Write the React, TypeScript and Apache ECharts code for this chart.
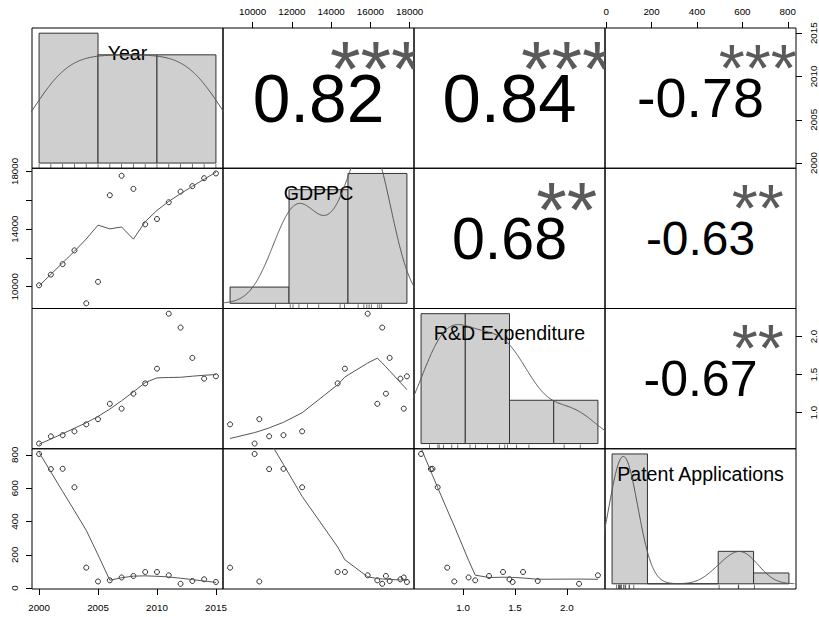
import React, { useEffect, useRef } from 'react';
import * as echarts from 'echarts';

// ---- data -------------------------------------------------------------
const years = [2000, 2001, 2002, 2003, 2004, 2005, 2006, 2007, 2008, 2009, 2010, 2011, 2012, 2013, 2014, 2015];
const gdppc = [10100, 10840, 11570, 12520, 8850, 10340, 16350, 17700, 16790, 14330, 14700, 15860, 16600, 16980, 17530, 17860];
const rdExpenditure = [0.595, 0.69, 0.705, 0.755, 0.847, 0.915, 1.117, 1.053, 1.25, 1.385, 1.578, 2.3, 2.118, 1.72, 1.447, 1.478];
const patentApps = [805, 714, 716, 605, 123, 40, 47, 64, 73, 97, 97, 77, 26, 43, 53, 37];

const varNames = ['Year', 'GDPPC', 'R&D Expenditure', 'Patent Applications'];

// histogram breaks for the diagonal panels
const yearBreaks = [2000, 2005, 2010, 2015];
const gdppcBreaks = [5000, 10000, 15000, 20000];
const rdBreaks = [0.5, 1.0, 1.5, 2.0, 2.5];
const patentBreaks = [0, 200, 400, 600, 800, 1000];

// axis ticks
const yearTicks = [2000, 2005, 2010, 2015];
const gdppcTicks = [10000, 12000, 14000, 16000, 18000];
const gdppcSideLabels = [10000, 14000, 18000];
const rdTicks = [1.0, 1.5, 2.0];
const patentTicks = [0, 200, 400, 600, 800];

// upper-triangle correlations: (1,2) (1,3) (1,4) (2,3) (2,4) (3,4)
const corrText = ['0.82', '0.84', '-0.78', '0.68', '-0.63', '-0.67'];
const corrStars = ['***', '***', '***', '**', '**', '**'];

// ---- styling / layout ------------------------------------------------
const FONT = '"Liberation Sans", Arial, Helvetica, sans-serif';
const AXIS_FS = 9.8;
const LABEL_FS = 19.6;
const LINE_GREY = '#555555';
const STAR_GREY = '#5a5a5a';
const HIST_FILL = '#cfcfcf';
const HIST_EDGE = '#333333';

const PLOT_LEFT = 32;
const PLOT_TOP = 28;
const PANEL_W = 191;
const PANEL_H = 140.25;

// ---- helpers ------------------------------------------------------------
function usrRange(v: number[]): [number, number] {
  const lo = Math.min(...v);
  const hi = Math.max(...v);
  const d = (hi - lo) * 0.04;
  return [lo - d, hi + d];
}

function quantile7(sorted: number[], p: number): number {
  const h = (sorted.length - 1) * p;
  const lo = Math.floor(h);
  const hi = Math.min(lo + 1, sorted.length - 1);
  return sorted[lo] + (h - lo) * (sorted[hi] - sorted[lo]);
}

function bwNrd0(v: number[]): number {
  const n = v.length;
  const mean = v.reduce((a, b) => a + b, 0) / n;
  const sd = Math.sqrt(v.reduce((a, b) => a + (b - mean) * (b - mean), 0) / (n - 1));
  const s = [...v].sort((a, b) => a - b);
  const iqr = quantile7(s, 0.75) - quantile7(s, 0.25);
  const lo = Math.min(sd, iqr / 1.34);
  return 0.9 * lo * Math.pow(n, -0.2);
}

// Gaussian kernel density, evaluated on 512 points (cut = 3 bandwidths)
function kde(v: number[]): number[][] {
  const n = v.length;
  const bw = bwNrd0(v);
  const lo = Math.min(...v) - 3 * bw;
  const hi = Math.max(...v) + 3 * bw;
  const out: number[][] = [];
  const k = 1 / (n * bw * Math.sqrt(2 * Math.PI));
  for (let i = 0; i < 512; i++) {
    const x = lo + ((hi - lo) * i) / 511;
    let s = 0;
    for (const xi of v) {
      const u = (x - xi) / bw;
      s += Math.exp(-0.5 * u * u);
    }
    out.push([x, s * k]);
  }
  return out;
}

// right-closed bins, lowest included; heights as densities
function histBins(v: number[], breaks: number[]): number[][] {
  const n = v.length;
  return breaks.slice(0, -1).map((lo, k) => {
    const hi = breaks[k + 1];
    const count = v.filter((x) => (k === 0 ? x >= lo : x > lo) && x <= hi).length;
    return [lo, hi, count / (n * (hi - lo))];
  });
}

const cube = (t: number) => t * t * t;

// locally weighted regression (Cleveland's LOWESS, robust iterations)
function lowess(xIn: number[], yIn: number[], f = 2 / 3, nsteps = 3): number[][] {
  const order = xIn.map((_, i) => i).sort((a, b) => xIn[a] - xIn[b]);
  const n = xIn.length;
  const x = [NaN, ...order.map((i) => xIn[i])];
  const y = [NaN, ...order.map((i) => yIn[i])];
  const ys = new Array(n + 1).fill(0);
  const rw = new Array(n + 1).fill(0);
  const res = new Array(n + 1).fill(0);
  const delta = 0.01 * (x[n] - x[1]);
  const ns = Math.max(2, Math.min(n, Math.floor(f * n + 1e-7)));

  const lowest = (xs: number, nleft: number, nright: number, userw: boolean): [boolean, number] => {
    const range = x[n] - x[1];
    const h = Math.max(xs - x[nleft], x[nright] - xs);
    const h9 = 0.999 * h;
    const h1 = 0.001 * h;
    const w = res;
    let a = 0;
    let j = nleft;
    while (j <= n) {
      w[j] = 0;
      const r = Math.abs(x[j] - xs);
      if (r <= h9) {
        w[j] = r <= h1 ? 1 : cube(1 - cube(r / h));
        if (userw) w[j] *= rw[j];
        a += w[j];
      } else if (x[j] > xs) break;
      j++;
    }
    const nrt = j - 1;
    if (a <= 0) return [false, 0];
    for (j = nleft; j <= nrt; j++) w[j] /= a;
    if (h > 0) {
      a = 0;
      for (j = nleft; j <= nrt; j++) a += w[j] * x[j];
      let b = xs - a;
      let c = 0;
      for (j = nleft; j <= nrt; j++) c += w[j] * (x[j] - a) * (x[j] - a);
      if (Math.sqrt(c) > 0.001 * range) {
        b /= c;
        for (j = nleft; j <= nrt; j++) w[j] *= b * (x[j] - a) + 1;
      }
    }
    let s = 0;
    for (j = nleft; j <= nrt; j++) s += w[j] * y[j];
    return [true, s];
  };

  let iter = 1;
  while (iter <= nsteps + 1) {
    let nleft = 1;
    let nright = ns;
    let last = 0;
    let i = 1;
    for (;;) {
      if (nright < n) {
        const d1 = x[i] - x[nleft];
        const d2 = x[nright + 1] - x[i];
        if (d1 > d2) {
          nleft++;
          nright++;
          continue;
        }
      }
      const [ok, v] = lowest(x[i], nleft, nright, iter > 1);
      ys[i] = ok ? v : y[i];
      if (last < i - 1) {
        const denom = x[i] - x[last];
        for (let j = last + 1; j < i; j++) {
          const alpha = (x[j] - x[last]) / denom;
          ys[j] = alpha * ys[i] + (1 - alpha) * ys[last];
        }
      }
      last = i;
      const cut = x[last] + delta;
      for (i = last + 1; i <= n; i++) {
        if (x[i] > cut) break;
        if (x[i] === x[last]) {
          ys[i] = ys[last];
          last = i;
        }
      }
      i = Math.max(last + 1, i - 1);
      if (last >= n) break;
    }
    for (let k = 1; k <= n; k++) res[k] = y[k] - ys[k];
    let sc = 0;
    for (let k = 1; k <= n; k++) sc += Math.abs(res[k]);
    sc /= n;
    if (iter > nsteps) break;
    const absr = [];
    for (let k = 1; k <= n; k++) absr.push(Math.abs(res[k]));
    absr.sort((a, b) => a - b);
    const m1 = Math.floor(n / 2);
    let cmad: number;
    if (n % 2 === 0) {
      const m2 = n - m1 - 1;
      cmad = 3 * (absr[m1] + absr[m2]);
    } else {
      cmad = 6 * absr[m1];
    }
    if (cmad < 1e-7 * sc) break;
    const c9 = 0.999 * cmad;
    const c1 = 0.001 * cmad;
    for (let k = 1; k <= n; k++) {
      const r = Math.abs(res[k]);
      if (r <= c1) rw[k] = 1;
      else if (r <= c9) {
        const q = 1 - (r / cmad) * (r / cmad);
        rw[k] = q * q;
      } else rw[k] = 0;
    }
    iter++;
  }
  const out: number[][] = [];
  for (let k = 1; k <= n; k++) out.push([x[k], ys[k]]);
  return out;
}

let measureCtx: CanvasRenderingContext2D | null = null;
function advanceEm(txt: string): number {
  if (!measureCtx) {
    measureCtx = document.createElement('canvas').getContext('2d');
  }
  if (!measureCtx) return txt.length * 0.556;
  measureCtx.font = '100px "Liberation Sans"';
  return measureCtx.measureText(txt).width / 100;
}

// ---- axes -----------------------------------------------------------
type Side = 'top' | 'bottom' | 'left' | 'right';
const tickValues = [yearTicks, gdppcTicks, rdTicks, patentTicks];
const fmtInt = (v: number) => String(Math.round(v));
const fmtOne = (v: number) => v.toFixed(1);
const tickFormat = [fmtInt, fmtInt, fmtOne, fmtInt];
const sideMargin: Record<Side, number> = { top: 12, bottom: 13, left: 13, right: 12.5 };

function axisCfg(gridIndex: number, range: number[], v: number | null, side: Side | null) {
  const base: any = {
    gridIndex,
    type: 'value',
    min: range[0],
    max: range[1],
    splitLine: { show: false },
    axisLine: { show: false, onZero: false },
  };
  if (v === null || side === null) return { ...base, show: false };
  const vertical = side === 'left' || side === 'right';
  const labels = v === 1 && vertical ? gdppcSideLabels : tickValues[v];
  return {
    ...base,
    show: true,
    position: side,
    axisTick: {
      show: true,
      inside: false,
      length: 6,
      customValues: tickValues[v],
      lineStyle: { color: '#000', width: 1 },
    },
    axisLabel: {
      show: true,
      customValues: labels,
      margin: sideMargin[side],
      rotate: vertical ? 90 : 0,
      fontSize: AXIS_FS,
      fontFamily: FONT,
      color: '#000',
      formatter: tickFormat[v],
    },
  };
}

function textSeries(gridIndex: number, pos: number[], text: string, fontSize: number, fill: string, dy: number, clip: boolean) {
  return {
    type: 'custom',
    xAxisIndex: gridIndex,
    yAxisIndex: gridIndex,
    clip,
    silent: true,
    data: [pos],
    renderItem: (_params: any, api: any) => {
      const pt = api.coord([api.value(0), api.value(1)]);
      return {
        type: 'text',
        x: pt[0],
        y: pt[1] + dy,
        style: {
          text,
          fontSize,
          fontFamily: FONT,
          fill,
          align: 'center',
          verticalAlign: 'middle',
        },
      };
    },
  };
}

function buildOption() {
  const cols = [years, gdppc, rdExpenditure, patentApps];
  const breaksList = [yearBreaks, gdppcBreaks, rdBreaks, patentBreaks];
  const ranges = cols.map(usrRange);
  const N = 4;
  const grid: any[] = [];
  const xAxis: any[] = [];
  const yAxis: any[] = [];
  const series: any[] = [];
  let corrIdx = 0;

  for (let r = 0; r < N; r++) {
    for (let c = 0; c < N; c++) {
      const p = r * N + c;
      const u = N * N + p;
      const rect = {
        left: PLOT_LEFT + c * PANEL_W,
        top: PLOT_TOP + r * PANEL_H,
        width: PANEL_W,
        height: PANEL_H,
      };
      grid[p] = { ...rect, show: true, borderColor: '#000', borderWidth: 1, containLabel: false, outerBoundsMode: 'none' };
      grid[u] = { ...rect, show: false, containLabel: false, outerBoundsMode: 'none' };
      xAxis[u] = axisCfg(u, [0, 1], null, null);
      yAxis[u] = axisCfg(u, [0, 1], null, null);

      if (r === c) {
        const bins = histBins(cols[c], breaksList[c]);
        const br = breaksList[c];
        const span = br[br.length - 1] - br[0];
        const hx = [br[0] - 0.04 * span, br[br.length - 1] + 0.04 * span];
        const maxD = Math.max(...bins.map((b) => b[2]));
        const hy = [-0.04 * maxD, 1.04 * maxD];
        xAxis[p] = axisCfg(p, hx, null, null);
        yAxis[p] = axisCfg(p, hy, null, null);
        series.push({
          type: 'custom',
          xAxisIndex: p,
          yAxisIndex: p,
          silent: true,
          clip: true,
          encode: { x: [0, 1], y: 2 },
          data: bins,
          renderItem: (_params: any, api: any) => {
            const a = api.coord([api.value(0), 0]);
            const b = api.coord([api.value(1), api.value(2)]);
            return {
              type: 'rect',
              shape: { x: a[0], y: b[1], width: b[0] - a[0], height: a[1] - b[1] },
              style: { fill: HIST_FILL, stroke: HIST_EDGE, lineWidth: 1 },
            };
          },
        });
        series.push({
          type: 'line',
          xAxisIndex: p,
          yAxisIndex: p,
          data: kde(cols[c]),
          showSymbol: false,
          symbol: 'none',
          clip: true,
          silent: true,
          lineStyle: { color: LINE_GREY, width: 1 },
        });
        series.push({
          type: 'scatter',
          xAxisIndex: p,
          yAxisIndex: p,
          data: cols[c].map((v) => [v, hy[0]]),
          symbol: 'rect',
          symbolSize: [0.8, 4.2],
          symbolOffset: [0, -2.1],
          clip: false,
          silent: true,
          itemStyle: { color: '#222' },
        });
        series.push(textSeries(u, [0.5, 0.5 + 1 / 3], varNames[c], LABEL_FS, '#000', 1.5, false));
      } else {
        const top = r === 0 && c % 2 === 1;
        const bottom = r === N - 1 && c % 2 === 0;
        const left = c === 0 && r % 2 === 1;
        const right = c === N - 1 && r % 2 === 0;
        xAxis[p] = axisCfg(p, ranges[c], top || bottom ? c : null, top ? 'top' : bottom ? 'bottom' : null);
        yAxis[p] = axisCfg(p, ranges[r], left || right ? r : null, left ? 'left' : right ? 'right' : null);

        if (r > c) {
          series.push({
            type: 'scatter',
            xAxisIndex: p,
            yAxisIndex: p,
            data: cols[c].map((v, i) => [v, cols[r][i]]),
            symbol: 'circle',
            symbolSize: 5,
            silent: true,
            itemStyle: { color: 'rgba(0,0,0,0)', borderColor: '#000', borderWidth: 1 },
          });
          series.push({
            type: 'line',
            xAxisIndex: p,
            yAxisIndex: p,
            data: lowess(cols[c], cols[r]),
            showSymbol: false,
            symbol: 'none',
            silent: true,
            lineStyle: { color: LINE_GREY, width: 1 },
          });
        } else {
          const txt = corrText[corrIdx];
          const stars = corrStars[corrIdx];
          corrIdx++;
          const baseFs = (0.8 * PANEL_W) / advanceEm(txt);
          const rv = Math.abs(parseFloat(txt));
          const numFs = (baseFs * (rv + 0.3)) / 1.3;
          series.push(textSeries(u, [0.5, 0.5], txt, numFs, '#000', 0, true));
          series.push(textSeries(u, [0.8, 0.8], stars, baseFs, STAR_GREY, 0.17 * baseFs, true));
        }
      }
    }
  }

  return {
    animation: false,
    backgroundColor: '#ffffff',
    grid,
    xAxis,
    yAxis,
    series,
  };
}

export default function App() {
  const ref = useRef<HTMLDivElement>(null);
  useEffect(() => {
    if (!ref.current) return;
    const chart = echarts.init(ref.current, null, { renderer: 'svg' });
    chart.setOption(buildOption() as any);
    return () => {
      chart.dispose();
    };
  }, []);
  return (
    <div
      ref={ref}
      style={{ position: 'absolute', left: 0, top: 0, width: 819, height: 617, background: '#fff' }}
    />
  );
}
